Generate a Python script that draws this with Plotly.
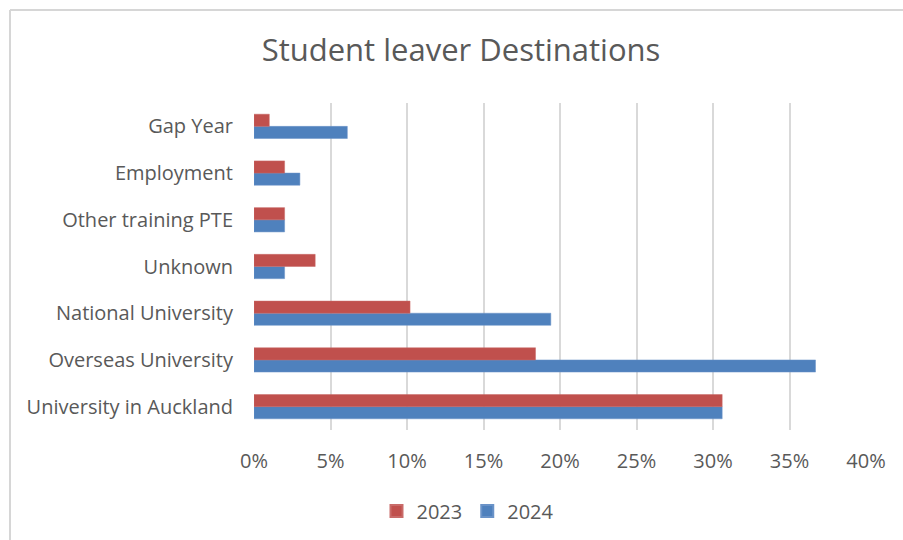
import plotly.graph_objects as go

categories = ["University in Auckland", "Overseas University", "National University",
              "Unknown", "Other training PTE", "Employment", "Gap Year"]
values_2023 = [0.306, 0.184, 0.102, 0.040, 0.020, 0.020, 0.010]
values_2024 = [0.306, 0.367, 0.194, 0.020, 0.020, 0.030, 0.061]
tick_vals = [0, 0.05, 0.10, 0.15, 0.20, 0.25, 0.30, 0.35, 0.40]
tick_text = ["0%", "5%", "10%", "15%", "20%", "25%", "30%", "35%", "40%"]

W, H = 903, 540
L, R, T, B = 254, 37, 103, 110
pw, ph = W - L - R, H - T - B

def px(x):
    return (x - L) / pw

def py(y):
    return (H - B - y) / ph

FONT = "Open Sans, Segoe UI, sans-serif"
GREY = "#595959"

fig = go.Figure()
fig.add_trace(go.Bar(y=categories, x=values_2024, name="2024", orientation="h",
                     marker=dict(color="#4F81BD", line=dict(color="#6A93C8", width=0.5)),
                     legendrank=2))
fig.add_trace(go.Bar(y=categories, x=values_2023, name="2023", orientation="h",
                     marker=dict(color="#C0504D", line=dict(color="#C96B69", width=0.5)),
                     legendrank=1))

fig.update_layout(
    width=W, height=H,
    margin=dict(l=L, r=R, t=T, b=B, autoexpand=False),
    paper_bgcolor="white", plot_bgcolor="white",
    barmode="group", bargap=0.48, bargroupgap=0,
    font=dict(family=FONT, color=GREY, size=20),
    title=dict(text="Student leaver Destinations", x=461 / W, xref="container",
               xanchor="center", y=1 - 50 / H, yref="container", yanchor="middle",
               font=dict(family=FONT, size=31, color=GREY)),
    xaxis=dict(range=[0, 0.40], tickvals=tick_vals, ticktext=tick_text,
               showgrid=True, gridcolor="#D9D9D9", gridwidth=2,
               zeroline=False, showline=False, ticks="", automargin=False,
               tickangle=0, ticklabelstandoff=17, tickfont=dict(size=20, color=GREY)),
    yaxis=dict(categoryorder="array", categoryarray=categories, automargin=False,
               showgrid=False, zeroline=False, showline=False, ticks="",
               ticklabelstandoff=20, tickfont=dict(size=20, color=GREY)),
    legend=dict(orientation="h", x=px(468), xanchor="center", xref="paper",
                y=1 - 511 / H, yref="container", yanchor="middle",
                font=dict(size=20, color=GREY), traceorder="normal",
                itemwidth=30, itemsizing="constant"),
    shapes=[
        dict(type="line", xref="paper", yref="paper", x0=px(10), x1=px(10),
             y0=py(10), y1=py(545), line=dict(color="#D6D6D6", width=2)),
        dict(type="line", xref="paper", yref="paper", x0=px(10), x1=px(910),
             y0=py(10), y1=py(10), line=dict(color="#D6D6D6", width=2)),
    ],
)

fig.write_html("out.html")
